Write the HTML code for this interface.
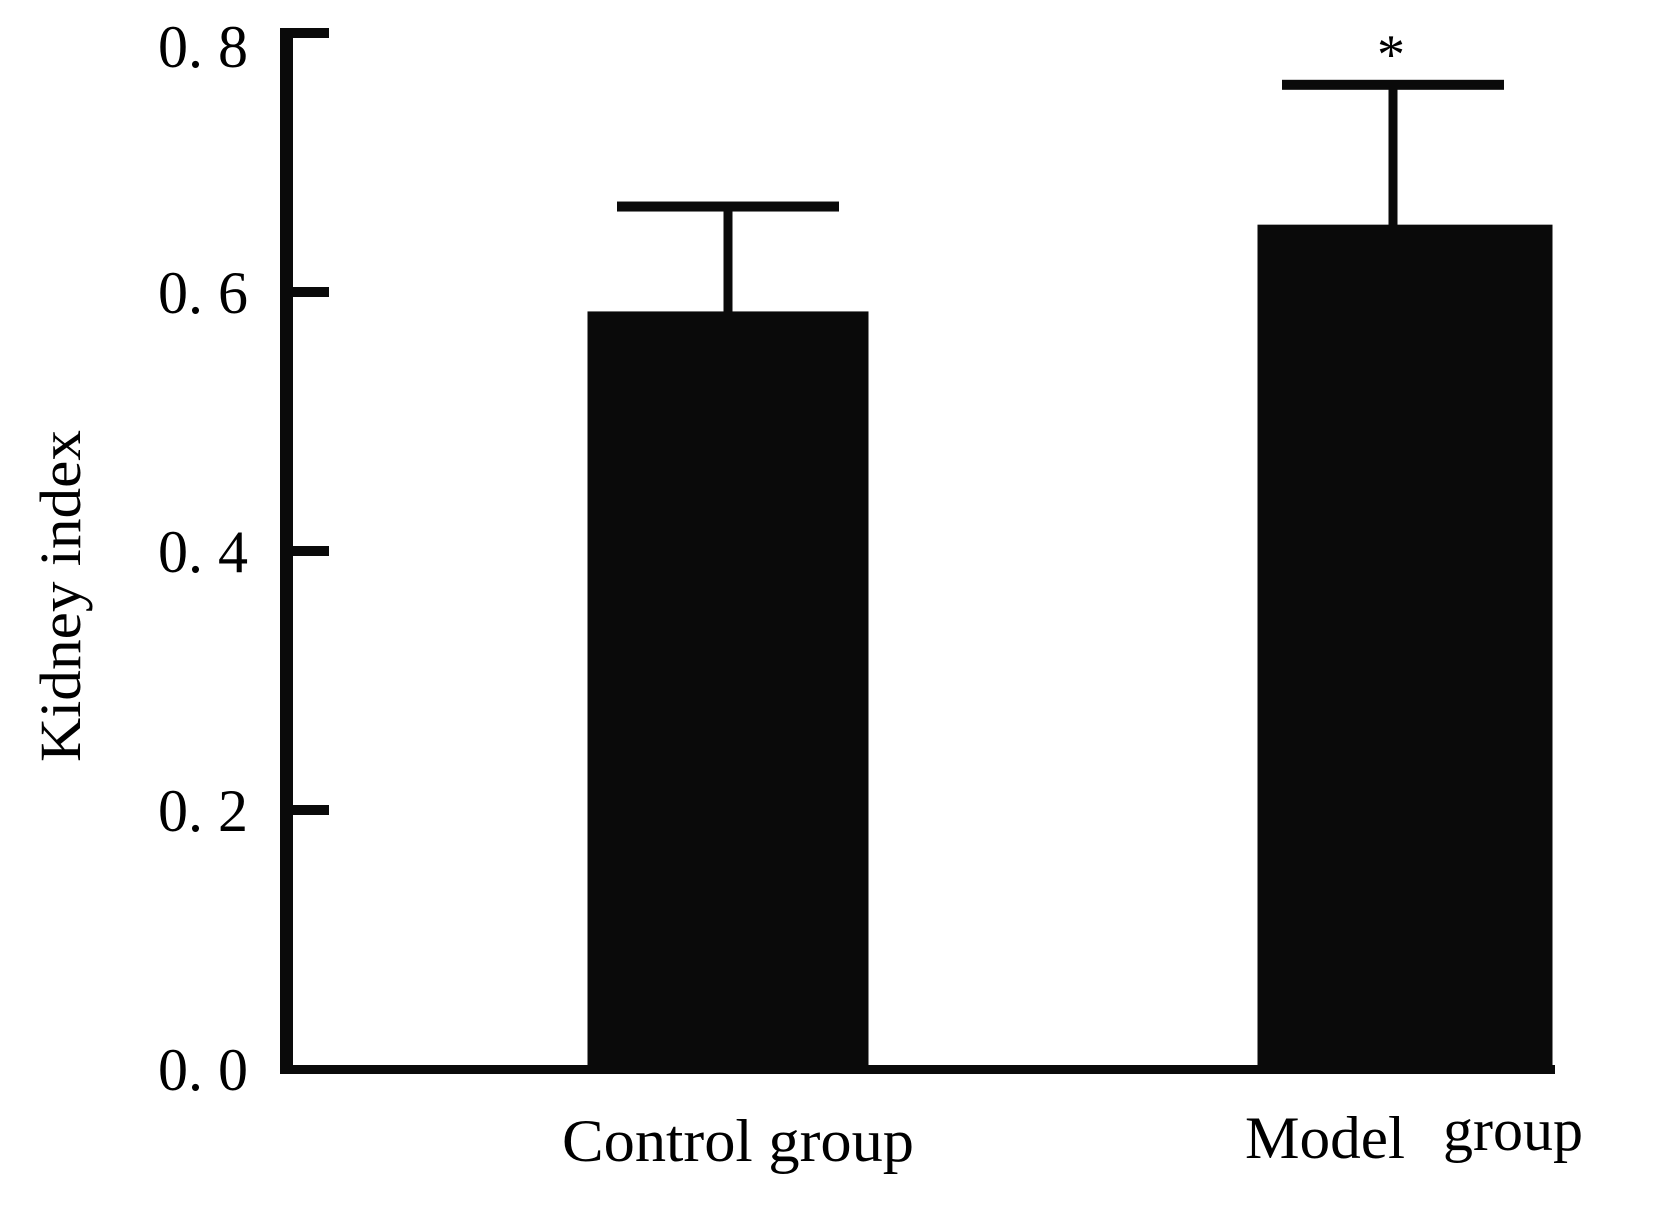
<!DOCTYPE html>
<html><head><meta charset="utf-8"><style>
html,body{margin:0;padding:0;background:#fff;}
svg{display:block;}
text{font-family:"Liberation Serif",serif;fill:#000;}
</style></head><body>
<svg id="chart" width="1654" height="1207" viewBox="0 0 1654 1207" xmlns="http://www.w3.org/2000/svg">
<g id="axes"></g>
<g id="bars"></g>
<g id="labels"></g>
<text transform="translate(80,596) rotate(-90)" text-anchor="middle" font-size="58" textLength="332" lengthAdjust="spacingAndGlyphs">Kidney index</text>
</svg>
<script>
const categories = ["Control group", "Model  group"];
const means = [0.585, 0.652];
const errorTops = [0.666, 0.760];
const significance = ["", "*"];
const yTicks = [0.0, 0.2, 0.4, 0.6, 0.8];
const yTickLabels = ["0. 0", "0. 2", "0. 4", "0. 6", "0. 8"];

const NS = "http://www.w3.org/2000/svg";
const y0 = 1069, yTop = 33, vMax = 0.8;
function yScale(v){ return y0 - (y0 - yTop) * v / vMax; }
function xCenter(i){ return 728 + i * 677; }
function errCenter(i){ return 728 + i * 665; }
function barWidth(i){ return 281 + i * 14; }
const capW = 222;

function mk(tag, attrs, parent){
  const e = document.createElementNS(NS, tag);
  for (const k in attrs) e.setAttribute(k, attrs[k]);
  parent.appendChild(e);
  return e;
}
const axes = document.getElementById('axes');
const bars = document.getElementById('bars');
const labels = document.getElementById('labels');

let a = mk('rect', {x:280, y:28, width:13, height:y0 + 5 - 28, fill:'#0a0a0a'}, axes);


let b = mk('rect', {x:280, y:y0 - 4, width:1275, height:9, fill:'#0a0a0a'}, axes);



yTicks.forEach((t, i) => {
  const y = yScale(t);
  if (t > 0) {
    const tk = mk('rect', {x:293, y:y - 5, width:36, height:10, fill:'#0a0a0a'}, axes);
    
    
  }
  const lb = mk('text', {x:248, y:Math.max(y + 21, 67), 'text-anchor':'end', 'font-size':60}, labels);
  lb.textContent = yTickLabels[i];
  
  
});

categories.forEach((c, i) => {
  const cx = xCenter(i), ex = errCenter(i), bw = barWidth(i);
  const yt = yScale(means[i]), ye = yScale(errorTops[i]);
  const r = mk('rect', {x:cx - bw/2, y:yt, width:bw, height:y0 - yt, fill:'#0a0a0a'}, bars);
  
  
  const st = mk('rect', {x:ex - 4.5, y:ye, width:9, height:yt - ye + 2, fill:'#0a0a0a'}, bars);
  
  
  const cp = mk('rect', {x:ex - capW/2, y:ye - 5, width:capW, height:10, fill:'#0a0a0a'}, bars);
  
  
  if (significance[i]) {
    const s = mk('text', {x:ex - 2, y:ye - 12, 'text-anchor':'middle', 'font-size':56}, labels);
    s.textContent = significance[i];
    
    
  }
});

const cl = mk('text', {x:562, y:1161, 'font-size':60, textLength:352, lengthAdjust:'spacingAndGlyphs'}, labels);
cl.textContent = categories[0];


const ml = mk('text', {x:1245, y:1158, 'font-size':60, textLength:160, lengthAdjust:'spacingAndGlyphs'}, labels);
ml.textContent = categories[1].split(/\s+/)[0];


const gl = mk('text', {x:1443, y:1150, 'font-size':60, textLength:140, lengthAdjust:'spacingAndGlyphs'}, labels);
gl.textContent = categories[1].split(/\s+/)[1];


</script>
</body></html>
